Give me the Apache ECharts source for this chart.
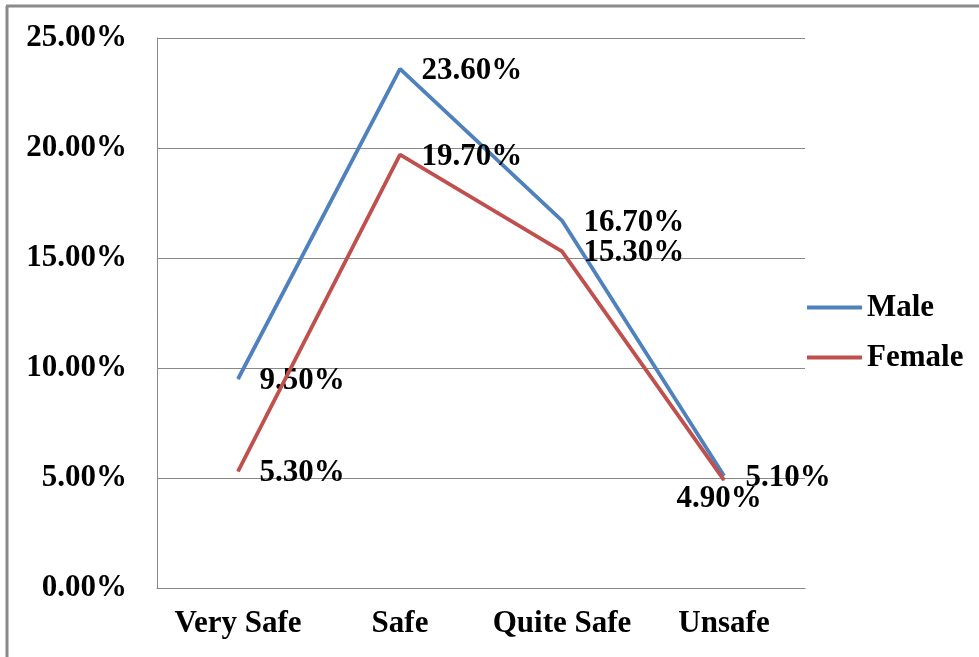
<!DOCTYPE html>
<html>
<head>
<meta charset="utf-8">
<script src="https://cdn.jsdelivr.net/npm/echarts@6/dist/echarts.min.js"></script>
<style>
  html, body { margin: 0; padding: 0; background: #fff; }
  #chart { width: 979px; height: 657px; }
</style>
</head>
<body>
<div id="chart"></div>
<script>
// Perceived safety by gender
const categories = ['Very Safe', 'Safe', 'Quite Safe', 'Unsafe'];
const maleValues = [9.5, 23.6, 16.7, 5.1];
const femaleValues = [5.3, 19.7, 15.3, 4.9];
const yTicks = [0, 5, 10, 15, 20, 25];

const FONT = '"Liberation Serif", "Times New Roman", serif';
const FS = 31;
const BLUE = '#4F81BD';
const RED = '#C0504D';

const fmt = v => v.toFixed(2) + '%';

function labelled(values, belowIndex) {
  return values.map((v, i) => ({
    value: v,
    label: i === belowIndex
      ? { position: 'bottom', distance: 3, offset: [-5, 0] }
      : { position: 'right', distance: 21, offset: [0, 2] }
  }));
}

const chart = echarts.init(document.getElementById('chart'));
chart.setOption({
  animation: false,
  backgroundColor: '#fff',
  textStyle: { fontFamily: FONT },
  grid: { left: 157, right: 174, top: 38, bottom: 69 },
  xAxis: {
    type: 'category',
    data: categories,
    boundaryGap: true,
    axisLine: { show: true, lineStyle: { color: '#888', width: 1 } },
    axisTick: { show: false },
    axisLabel: { interval: 0, color: '#000', fontFamily: FONT, fontWeight: 'bold', fontSize: FS, margin: 20 }
  },
  yAxis: {
    type: 'value',
    min: yTicks[0],
    max: yTicks[yTicks.length - 1],
    interval: 5,
    axisLine: { show: true, lineStyle: { color: '#888', width: 1 } },
    axisTick: { show: false },
    splitLine: { show: true, lineStyle: { color: '#888', width: 1 } },
    axisLabel: {
      color: '#000', fontFamily: FONT, fontWeight: 'bold', fontSize: FS, margin: 30,
      formatter: v => fmt(v)
    }
  },
  legend: {
    orient: 'vertical',
    left: 807,
    top: 292,
    padding: 0,
    itemWidth: 55,
    itemHeight: 4,
    itemGap: 19,
    icon: 'rect',
    textStyle: { color: '#000', fontFamily: FONT, fontWeight: 'bold', fontSize: FS, lineHeight: 31 },
    data: ['Male', 'Female']
  },
  series: [
    {
      name: 'Male',
      type: 'line',
      data: labelled(maleValues, -1),
      showSymbol: true,
      symbol: 'circle',
      symbolSize: 1,
      lineStyle: { color: BLUE, width: 3.8 },
      itemStyle: { color: BLUE },
      label: {
        show: true, color: '#000', fontFamily: FONT, fontWeight: 'bold', fontSize: FS,
        formatter: p => fmt(p.value)
      },
      z: 2
    },
    {
      name: 'Female',
      type: 'line',
      data: labelled(femaleValues, 3),
      showSymbol: true,
      symbol: 'circle',
      symbolSize: 1,
      lineStyle: { color: RED, width: 3.8 },
      itemStyle: { color: RED },
      label: {
        show: true, color: '#000', fontFamily: FONT, fontWeight: 'bold', fontSize: FS,
        formatter: p => fmt(p.value)
      },
      z: 3
    }
  ],
  graphic: [
    { type: 'line', shape: { x1: 6, y1: 6, x2: 979, y2: 6 }, style: { stroke: '#8a8a8a', lineWidth: 3 } },
    { type: 'line', shape: { x1: 7, y1: 6, x2: 7, y2: 657 }, style: { stroke: '#8a8a8a', lineWidth: 3 } }
  ]
});
</script>
</body>
</html>
